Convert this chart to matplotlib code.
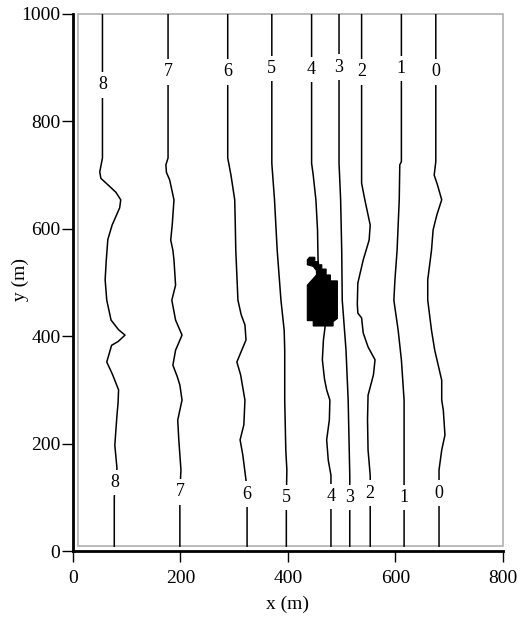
import numpy as np
import matplotlib.pyplot as plt
from matplotlib.patches import Rectangle, Polygon

plt.rcParams['font.family'] = ['Liberation Serif', 'DejaVu Serif']

# contour lines (x in m, y in m), top to bottom
x8 = [55, 55, 50, 52, 65, 80, 89, 87, 73, 65, 62, 60, 63, 71, 85, 97, 84, 72, 63, 74, 85, 84, 82, 78, 82, 77, 77]
y8 = [1000, 732, 706, 694, 682, 668, 654, 639, 607, 580, 540, 505, 467, 430, 412, 402, 390, 383, 352, 328, 300, 275, 253, 197, 154, 100, 9]
x7 = [177, 177, 173, 174, 180, 188, 185, 182, 186, 188, 191, 184, 191, 203, 191, 186, 194, 199, 203, 195, 197, 201, 199, 199]
y7 = [1000, 732, 719, 705, 691, 654, 610, 579, 560, 542, 495, 467, 430, 402, 374, 346, 325, 309, 281, 244, 207, 151, 110, 9]
x6 = [288, 288, 294, 301, 302, 303, 307, 313, 320, 322, 305, 312, 320, 318, 311, 316, 322, 324, 324]
y6 = [1000, 732, 700, 654, 610, 560, 467, 440, 421, 393, 352, 328, 281, 235, 207, 179, 132, 106, 9]
x5 = [370, 370, 375, 380, 387, 393, 394, 394, 396, 398, 397, 397]
y5 = [1000, 722, 654, 560, 467, 411, 374, 281, 188, 151, 99, 9]
x4 = [444, 444, 447, 452, 455, 456, 462, 469, 466, 464, 468, 472, 478, 477, 472, 475, 480, 480]
y4 = [1000, 722, 700, 654, 598, 542, 480, 417, 393, 356, 320, 300, 281, 244, 207, 169, 141, 9]
x3 = [495, 495, 496, 498, 500, 501, 508, 512, 514, 515, 515]
y3 = [1000, 722, 700, 654, 560, 467, 374, 281, 188, 141, 9]
x2 = [537, 537, 543, 553, 551, 540, 530, 529, 530, 537, 540, 549, 562, 559, 549, 548, 549, 553, 553]
y2 = [1000, 685, 654, 607, 579, 542, 499, 460, 443, 434, 406, 380, 356, 328, 290, 244, 188, 141, 9]
x1 = [611, 611, 608, 607, 603, 599, 597, 605, 611, 616, 616, 616, 616]
y1 = [1000, 725, 719, 654, 560, 505, 467, 411, 356, 281, 188, 132, 9]
x0 = [675, 675, 672, 678, 686, 677, 670, 667, 660, 660, 667, 673, 686, 686, 689, 692, 686, 681, 681]
y0 = [1000, 725, 700, 682, 654, 626, 598, 560, 505, 467, 411, 374, 318, 281, 262, 216, 188, 151, 9]

levels = ['8', '7', '6', '5', '4', '3', '2', '1', '0']
top_lx = [56, 177, 288, 370, 444, 495, 537, 611, 675]
top_ly = [868, 892, 892, 899, 896, 901, 892, 899, 892]
bot_lx = [78, 199, 324, 397, 480, 515, 553, 616, 681]
bot_ly = [128, 110, 106, 99, 102, 99, 108, 99, 108]

# obstacle outline
obs_x = [436, 440, 450, 450, 456, 456, 463, 463, 471, 471, 479, 479, 492, 492, 484, 484,
         447, 447, 436, 436, 453, 453, 447, 436]
obs_y = [542, 547, 547, 539, 539, 533, 533, 525, 525, 514, 514, 503, 503, 433, 427, 419,
         419, 429, 429, 495, 514, 522, 530, 533]

fig = plt.figure(figsize=(5.32, 6.21), dpi=100)
ax = fig.add_axes([0.137, 0.1127, 0.8085, 0.8648])

lines = [(x8, y8), (x7, y7), (x6, y6), (x5, y5), (x4, y4), (x3, y3), (x2, y2), (x1, y1), (x0, y0)]
for xs, ys in lines:
    ax.plot(xs, ys, color='black', lw=1.1, zorder=2)

ax.add_patch(Polygon(np.column_stack([obs_x, obs_y]), closed=True, facecolor='black',
                     edgecolor='black', lw=0.8, zorder=3))

for i, lab in enumerate(levels):
    for lx, ly in ((top_lx[i], top_ly[i]), (bot_lx[i], bot_ly[i])):
        ax.text(lx, ly, lab, fontsize=13, ha='center', va='center', zorder=4,
                bbox=dict(facecolor='white', edgecolor='none', pad=3))

ax.add_patch(Rectangle((9, 9), 791, 991, fill=False, edgecolor='#b0b0b0', lw=1.2,
                       clip_on=False, zorder=1))

ax.set_xlim(0, 800)
ax.set_ylim(0, 1000)
ax.set_xticks([0, 200, 400, 600, 800])
ax.set_yticks([0, 200, 400, 600, 800, 1000])
for s in ['top', 'right']:
    ax.spines[s].set_visible(False)
for s in ['left', 'bottom']:
    ax.spines[s].set_linewidth(2)
ax.tick_params(direction='out', length=8, width=1, labelsize=14)
ax.tick_params(axis='y', pad=1)
ax.tick_params(axis='x', pad=6)
ax.set_xlabel('x (m)', fontsize=14, labelpad=6)
ax.set_ylabel('y (m)', fontsize=14)
ax.yaxis.set_label_coords(-0.102, 0.505)

fig.savefig('out.png', dpi=100)
